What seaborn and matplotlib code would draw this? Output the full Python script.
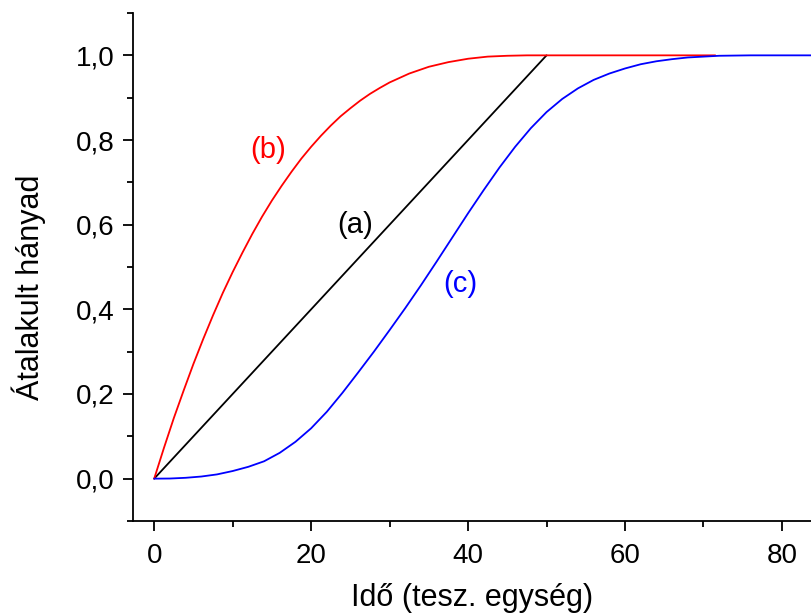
import matplotlib
matplotlib.use("Agg")
import matplotlib.pyplot as plt
import matplotlib.ticker as mticker
import seaborn as sns
import pandas as pd

# (a) linear
t_a = [0, 50]
y_a = [0.0, 1.0]

# (b) fast start, saturates
t_b = [0, 1.25, 2.5, 3.75, 5, 6.25, 7.5, 8.75, 10, 11.25, 12.5, 13.75, 15,
       16.25, 17.5, 18.75, 20, 21.25, 22.5, 23.75, 25, 26.25, 27.5, 28.75,
       30, 32.5, 35, 37.5, 40, 42.5, 45, 47.5, 71.5]
y_b = [0.0, 0.073, 0.143, 0.208, 0.271, 0.33, 0.386, 0.439, 0.488, 0.534,
       0.578, 0.619, 0.657, 0.692, 0.725, 0.756, 0.784, 0.810, 0.834, 0.856,
       0.875, 0.893, 0.909, 0.923, 0.936, 0.957, 0.973, 0.984, 0.992, 0.997,
       0.999, 1.0, 1.0]

# (c) sigmoid
t_c = [0, 2, 4, 6, 8, 10, 12, 14, 16, 18, 20, 22, 24, 26, 28, 30, 32, 34,
       36, 38, 40, 42, 44, 46, 48, 50, 52, 54, 56, 58, 60, 62, 64, 66, 68,
       70, 72, 76, 84]
y_c = [0.0, 0.0003, 0.002, 0.005, 0.01, 0.018, 0.028, 0.041, 0.061, 0.087,
       0.119, 0.158, 0.203, 0.251, 0.300, 0.351, 0.403, 0.457, 0.513, 0.570,
       0.627, 0.682, 0.735, 0.784, 0.828, 0.866, 0.897, 0.922, 0.942, 0.957,
       0.969, 0.979, 0.986, 0.991, 0.995, 0.997, 0.999, 1.0, 1.0]

labels = ["(a)", "(b)", "(c)"]
label_pos = [(25.6, 0.60), (14.5, 0.776), (39.0, 0.459)]
colors = ["black", "#ff0000", "#0000ff"]

sns.set_style("ticks")
plt.rcParams["font.family"] = ["Liberation Sans", "DejaVu Sans"]

fig = plt.figure(figsize=(8.11, 6.14), dpi=100)
ax = fig.add_axes([0.164, 0.1515, 0.836, 0.8273])

series = [(t_a, y_a), (t_b, y_b), (t_c, y_c)]
for (tt, yy), col in zip(series, colors):
    df = pd.DataFrame({"t": tt, "y": yy})
    sns.lineplot(data=df, x="t", y="y", color=col, lw=1.3, ax=ax,
                 estimator=None, sort=False)

for lab, (px, py), col in zip(labels, label_pos, colors):
    ax.text(px, py, lab, color=col, fontsize=21, ha="center", va="center")

ax.set_xlim(-2.7, 83.7)
ax.set_ylim(-0.1, 1.1)
ax.xaxis.set_major_locator(mticker.MultipleLocator(20))
ax.xaxis.set_minor_locator(mticker.MultipleLocator(10))
ax.yaxis.set_major_locator(mticker.FixedLocator([0, 0.2, 0.4, 0.6, 0.8, 1.0]))
ax.yaxis.set_minor_locator(mticker.FixedLocator([-0.1, 0.1, 0.3, 0.5, 0.7, 0.9, 1.1]))
ax.yaxis.set_major_formatter(mticker.FuncFormatter(lambda v, p: f"{v:.1f}".replace(".", ",")))

ax.tick_params(which="major", direction="out", length=7, width=1.3,
               labelsize=20, colors="black")
ax.tick_params(which="minor", direction="out", length=4, width=1.3,
               colors="black")
ax.tick_params(axis="x", which="major", pad=9)
ax.tick_params(axis="y", which="major", pad=6)

for s in ["top", "right"]:
    ax.spines[s].set_visible(False)
for s in ["left", "bottom"]:
    ax.spines[s].set_linewidth(1.3)
    ax.spines[s].set_color("black")

ax.set_xlabel("Idő (tesz. egység)", fontsize=22, labelpad=10, color="black")
ax.set_ylabel("Átalakult hányad", fontsize=22, color="black")
ax.yaxis.set_label_coords(-0.128, 0.46)

fig.savefig("out.png", dpi=100)
